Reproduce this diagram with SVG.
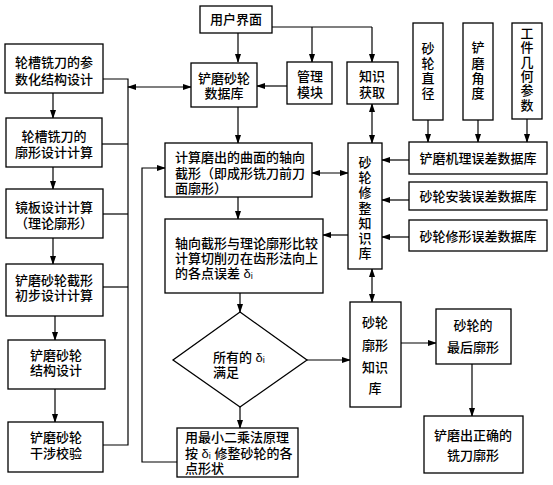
<svg xmlns="http://www.w3.org/2000/svg" width="553" height="485" viewBox="0 0 553 485">
<style>
.b{fill:#fff;stroke:#000;stroke-width:1.3}
.l{fill:none;stroke:#000;stroke-width:1.2}
.a{marker-end:url(#ah)}
.d{marker-start:url(#ah);marker-end:url(#ah)}
text{font-family:"Liberation Sans","Noto Sans CJK SC",sans-serif;font-size:13px;font-weight:500;fill:#000}
.c{text-anchor:middle}
</style>
<defs>
<marker id="ah" markerUnits="userSpaceOnUse" markerWidth="9" markerHeight="6" refX="8" refY="3" orient="auto-start-reverse">
<path d="M0,0 L9,3 L0,6 z" fill="#000"/>
</marker>
</defs>
<rect width="553" height="485" fill="#fff"/>
<g id="connectors">
<path class="l a" d="M53,93 V118"/>
<path class="l a" d="M53,167 V189"/>
<path class="l a" d="M53,238 V264"/>
<path class="l a" d="M55,316 V340"/>
<path class="l a" d="M55,389 V422"/>
<path class="l" d="M103,79 H128 V445 H103"/>
<path class="l" d="M102,144 H128"/>
<path class="l" d="M103,214 H128"/>
<path class="l" d="M103,287 H128"/>
<path class="l d" d="M128,87 H191"/>
<path class="l" d="M272,27 H372"/>
<path class="l a" d="M312,27 V62"/>
<path class="l a" d="M372,27 V62"/>
<path class="l a" d="M238,33 V62"/>
<path class="l a" d="M287,86 H257"/>
<path class="l a" d="M238,107 V143"/>
<path class="l d" d="M372,104 V143"/>
<path class="l a" d="M428,120 V142"/>
<path class="l a" d="M478,120 V142"/>
<path class="l a" d="M527,119 V142"/>
<path class="l a" d="M409,160 H382"/>
<path class="l a" d="M409,200 H382"/>
<path class="l a" d="M409,237 H382"/>
<path class="l d" d="M312,173 H348"/>
<path class="l a" d="M348,235 H323"/>
<path class="l a" d="M238,197 V219"/>
<path class="l a" d="M240,293 V312"/>
<path class="l a" d="M240,407 V428"/>
<path class="l a" d="M307,360 H350"/>
<path class="l d" d="M372,269 V302"/>
<path class="l a" d="M401,343 H436"/>
<path class="l a" d="M472,364 V416"/>
<path class="l a" d="M177,462 H142 V168 H165"/>
</g>
<g id="n1"><rect class="b" x="5" y="44" width="98" height="49"/><text x="54" y="67" class="c">轮槽铣刀的参</text><text x="54" y="84" class="c">数化结构设计</text></g>
<g id="n2"><rect class="b" x="6" y="118" width="96" height="49"/><text x="54" y="141" class="c">轮槽铣刀的</text><text x="54" y="157" class="c">廓形设计计算</text></g>
<g id="n3"><rect class="b" x="6" y="189" width="97" height="49"/><text x="54" y="212" class="c">镜板设计计算</text><text x="54" y="228" class="c">（理论廓形）</text></g>
<g id="n4"><rect class="b" x="6" y="264" width="97" height="52"/><text x="54" y="285" class="c">铲磨砂轮截形</text><text x="54" y="300" class="c">初步设计计算</text></g>
<g id="n5"><rect class="b" x="8" y="340" width="97" height="49"/><text x="56" y="360" class="c">铲磨砂轮</text><text x="56" y="375" class="c">结构设计</text></g>
<g id="n6"><rect class="b" x="8" y="422" width="95" height="50"/><text x="56" y="442" class="c">铲磨砂轮</text><text x="56" y="458" class="c">干涉校验</text></g>
<g id="ui"><rect class="b" x="200" y="6" width="72" height="27"/><text x="236" y="24" class="c">用户界面</text></g>
<g id="db"><rect class="b" x="191" y="63" width="66" height="44"/><text x="224" y="83" class="c">铲磨砂轮</text><text x="224" y="98" class="c">数据库</text></g>
<g id="mgr"><rect class="b" x="287" y="62" width="45" height="42"/><text x="310" y="81" class="c">管理</text><text x="310" y="97" class="c">模块</text></g>
<g id="ka"><rect class="b" x="347" y="62" width="51" height="42"/><text x="372" y="81" class="c">知识</text><text x="372" y="97" class="c">获取</text></g>
<g id="p1"><rect class="b" x="413" y="23" width="30" height="97"/><text x="428" class="c"><tspan x="428" y="53">砂</tspan><tspan x="428" y="68">轮</tspan><tspan x="428" y="83">直</tspan><tspan x="428" y="98">径</tspan></text></g>
<g id="p2"><rect class="b" x="463" y="23" width="30" height="97"/><text class="c"><tspan x="478" y="52">铲</tspan><tspan x="478" y="68">磨</tspan><tspan x="478" y="83">角</tspan><tspan x="478" y="98">度</tspan></text></g>
<g id="p3"><rect class="b" x="512" y="23" width="30" height="96"/><text class="c"><tspan x="527" y="38">工</tspan><tspan x="527" y="52">件</tspan><tspan x="527" y="67">几</tspan><tspan x="527" y="81">何</tspan><tspan x="527" y="95">参</tspan><tspan x="527" y="110">数</tspan></text></g>
<g id="e1"><rect class="b" x="409" y="142" width="138" height="32"/><text x="478" y="163" class="c">铲磨机理误差数据库</text></g>
<g id="e2"><rect class="b" x="409" y="182" width="138" height="28"/><text x="478" y="201" class="c">砂轮安装误差数据库</text></g>
<g id="e3"><rect class="b" x="409" y="220" width="138" height="31"/><text x="478" y="241" class="c">砂轮修形误差数据库</text></g>
<g id="kb1"><rect class="b" x="348" y="143" width="34" height="126"/><text class="c"><tspan x="365" y="167">砂</tspan><tspan x="365" y="182">轮</tspan><tspan x="365" y="197">修</tspan><tspan x="365" y="213">整</tspan><tspan x="365" y="228">知</tspan><tspan x="365" y="243">识</tspan><tspan x="365" y="258">库</tspan></text></g>
<g id="calc"><rect class="b" x="165" y="143" width="147" height="54"/><text x="175" y="162">计算磨出的曲面的轴向</text><text x="175" y="178">截形（即成形铣刀前刀</text><text x="175" y="193">面廓形）</text></g>
<g id="cmp"><rect class="b" x="165" y="219" width="158" height="74"/><text x="175" y="248">轴向截形与理论廓形比较</text><text x="175" y="263">计算切削刃在齿形法向上</text><text x="175" y="278">的各点误差 δᵢ</text></g>
<g id="dec"><path class="b" d="M240,312 L307,360 L240,407 L173,360 Z"/><text x="213" y="362">所有的 δᵢ</text><text x="213" y="377">满足</text></g>
<g id="ls"><rect class="b" x="177" y="428" width="121" height="49"/><text x="185" y="442">用最小二乘法原理</text><text x="185" y="458">按 δᵢ 修整砂轮的各</text><text x="185" y="473">点形状</text></g>
<g id="kb2"><rect class="b" x="350" y="302" width="51" height="105"/><text x="375" y="327" class="c">砂轮</text><text x="375" y="350" class="c">廓形</text><text x="375" y="372" class="c">知识</text><text x="375" y="393" class="c">库</text></g>
<g id="fin"><rect class="b" x="436" y="309" width="75" height="55"/><text x="473" y="330" class="c">砂轮的</text><text x="473" y="352" class="c">最后廓形</text></g>
<g id="out"><rect class="b" x="424" y="416" width="99" height="57"/><text x="473" y="440" class="c">铲磨出正确的</text><text x="473" y="460" class="c">铣刀廓形</text></g>
</svg>
